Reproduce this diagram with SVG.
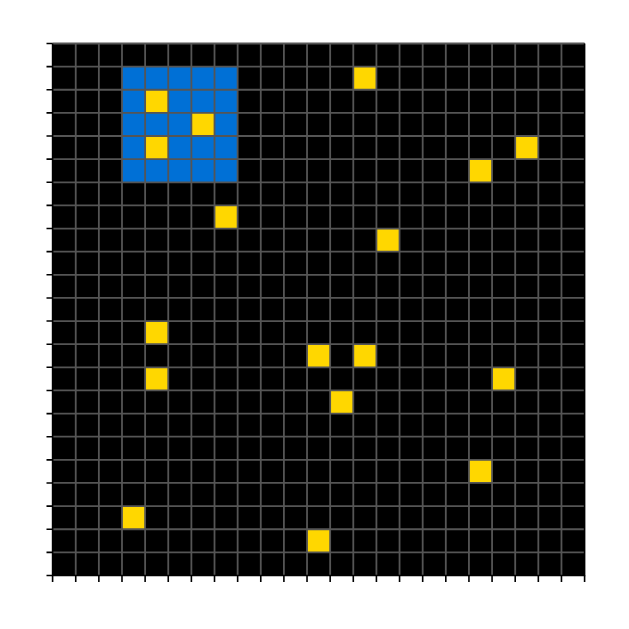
<svg xmlns="http://www.w3.org/2000/svg" width="629" height="629" viewBox="0 0 629 629">
<style>
.bg{fill:#000000}
.blue{fill:#0070d6}
.gold{fill:#ffd700}
.grid{fill:none;stroke:#555555;stroke-width:1.8;vector-effect:non-scaling-stroke}
.spine{fill:none;stroke:#000000;stroke-width:1.6;vector-effect:non-scaling-stroke}
.tick{fill:none;stroke:#000000;stroke-width:1.6}
</style>
<rect width="629" height="629" fill="#ffffff"/>
<g id="plot" transform="translate(52.6 43.5) scale(23.13)">
<rect class="bg" x="0" y="0" width="23" height="23"/>
<g id="blue-block">
<rect class="blue" x="3" y="1" width="5" height="5"/>
</g>
<g id="gold-cells" class="gold">
<rect x="13" y="1" width="1" height="1"/>
<rect x="4" y="2" width="1" height="1"/>
<rect x="6" y="3" width="1" height="1"/>
<rect x="4" y="4" width="1" height="1"/>
<rect x="20" y="4" width="1" height="1"/>
<rect x="18" y="5" width="1" height="1"/>
<rect x="7" y="7" width="1" height="1"/>
<rect x="14" y="8" width="1" height="1"/>
<rect x="4" y="12" width="1" height="1"/>
<rect x="11" y="13" width="1" height="1"/>
<rect x="13" y="13" width="1" height="1"/>
<rect x="4" y="14" width="1" height="1"/>
<rect x="19" y="14" width="1" height="1"/>
<rect x="12" y="15" width="1" height="1"/>
<rect x="18" y="18" width="1" height="1"/>
<rect x="3" y="20" width="1" height="1"/>
<rect x="11" y="21" width="1" height="1"/>
</g>
<g id="gridlines">
<path class="grid" d="M1 0V23M2 0V23M3 0V23M4 0V23M5 0V23M6 0V23M7 0V23M8 0V23M9 0V23M10 0V23M11 0V23M12 0V23M13 0V23M14 0V23M15 0V23M16 0V23M17 0V23M18 0V23M19 0V23M20 0V23M21 0V23M22 0V23M0 0H23M0 1H23M0 2H23M0 3H23M0 4H23M0 5H23M0 6H23M0 7H23M0 8H23M0 9H23M0 10H23M0 11H23M0 12H23M0 13H23M0 14H23M0 15H23M0 16H23M0 17H23M0 18H23M0 19H23M0 20H23M0 21H23M0 22H23"/>
<path class="spine" d="M0 0V23H23V0"/>
</g>
</g>
<g id="ticks">
<path class="tick" d="M46.5 43.5H52.6M46.5 66.63H52.6M46.5 89.76H52.6M46.5 112.89H52.6M46.5 136.02H52.6M46.5 159.15H52.6M46.5 182.28H52.6M46.5 205.41H52.6M46.5 228.54H52.6M46.5 251.67H52.6M46.5 274.8H52.6M46.5 297.93H52.6M46.5 321.06H52.6M46.5 344.19H52.6M46.5 367.32H52.6M46.5 390.45H52.6M46.5 413.58H52.6M46.5 436.71H52.6M46.5 459.84H52.6M46.5 482.97H52.6M46.5 506.1H52.6M46.5 529.23H52.6M46.5 552.36H52.6M46.5 575.49H52.6"/>
<path class="tick" d="M52.6 575.5V582M75.73 575.5V582M98.86 575.5V582M121.99 575.5V582M145.12 575.5V582M168.25 575.5V582M191.38 575.5V582M214.51 575.5V582M237.64 575.5V582M260.77 575.5V582M283.9 575.5V582M307.03 575.5V582M330.16 575.5V582M353.29 575.5V582M376.42 575.5V582M399.55 575.5V582M422.68 575.5V582M445.81 575.5V582M468.94 575.5V582M492.07 575.5V582M515.2 575.5V582M538.33 575.5V582M561.46 575.5V582M584.59 575.5V582"/>
</g>
</svg>
